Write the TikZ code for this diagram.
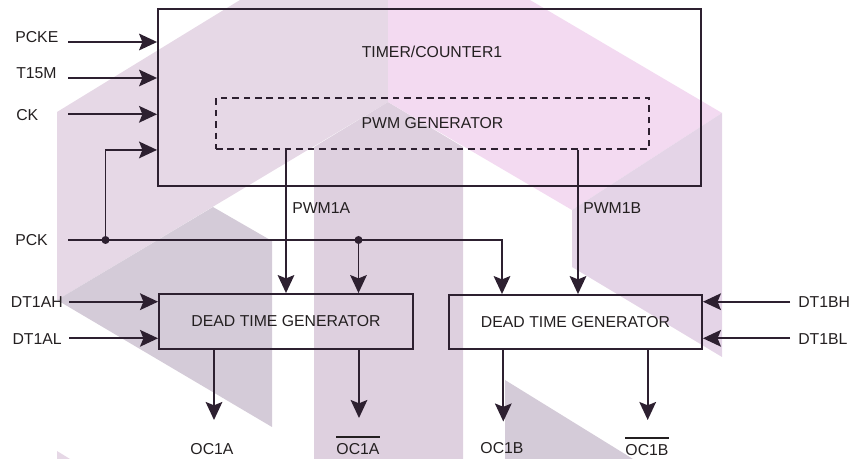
\documentclass[tikz,border=0pt]{standalone}
\usepackage{fontspec}
\setmainfont{Liberation Sans}
\usetikzlibrary{arrows.meta}
\definecolor{lc}{HTML}{2D2030}
\definecolor{tc}{HTML}{231F20}
\definecolor{wmA}{HTML}{E6D8E6}
\definecolor{wmB}{HTML}{DED0DF}
\definecolor{wmG}{HTML}{D4CBD8}
\definecolor{wmP}{HTML}{F3DAF1}
\definecolor{wmC}{HTML}{E4D4E7}
\begin{document}
\begin{tikzpicture}[x=0.75pt,y=-0.75pt,
  font=\fontsize{11.85}{14}\selectfont,
  every node/.style={text=tc},
  line/.style={draw=lc, line width=1.4pt},
  arr/.style={line, -{Stealth[length=13.5pt,width=12.5pt,inset=2.5pt]}},
  box/.style={draw=lc, line width=1.4pt, inner sep=0pt},
  dbox/.style={box, dash pattern=on 4.9pt off 3.7pt},
  lbl/.style={inner sep=0pt},
  dot/.style={fill=lc}]
\useasboundingbox (0,0) rectangle (851,459);
% watermark
\fill[wmA] (57,112) -- (240,0) -- (388,0) -- (388,102) -- (57,300) -- cycle;
\fill[wmB] (314,147) -- (388,102) -- (463,147) -- (463,459) -- (314,459) -- cycle;
\fill[wmP] (388,0) -- (530,0) -- (722,113) -- (572,210) -- (388,102) -- cycle;
\fill[wmC] (572,210) -- (722,113) -- (722,357) -- (572,267) -- cycle;
\fill[wmG] (57,300) -- (213,207) -- (272,241) -- (272,427) -- cycle;
\fill[wmG] (505,380) -- (505,459) -- (633,459) -- cycle;
\fill[wmA] (57,451) -- (57,459) -- (70,459) -- cycle;
% boxes
\node[box, minimum width=407.25pt, minimum height=132.75pt] (timer) at (429.5,97.5) {};
\node[lbl] (ttl) at (432,52) {TIMER/COUNTER1};
\node[dbox, minimum width=324.75pt, minimum height=38.25pt] (pwm) at (432.5,123.5) {PWM GENERATOR};
\node[box, minimum width=190.5pt, minimum height=41.25pt] (dtgA) at (286,321.5) {DEAD TIME GENERATOR};
\node[box, minimum width=189.75pt, minimum height=40.5pt] (dtgB) at (575.5,322) {DEAD TIME GENERATOR};
% labels
\node[lbl, anchor=west] (pcke) at (15,37.5) {PCKE};
\node[lbl, anchor=west] (t15m) at (16,73.5) {T15M};
\node[lbl, anchor=west] (ck) at (16,115.5) {CK};
\node[lbl, anchor=west] (pck) at (15,240.5) {PCK};
\node[lbl, anchor=east] (dtah) at (63,302.5) {DT1AH};
\node[lbl, anchor=east] (dtal) at (62,339) {DT1AL};
\node[lbl, anchor=west] (dtbh) at (798,302) {DT1BH};
\node[lbl, anchor=west] (dtbl) at (798,339) {DT1BL};
\node[lbl, anchor=west] (pwma) at (292,208) {PWM1A};
\node[lbl, anchor=west] (pwmb) at (583,208) {PWM1B};
\node[lbl] (oca) at (212,449) {OC1A};
\node[lbl] (ocan) at (358,449) {OC1A};
\node[lbl] (ocb) at (502,448) {OC1B};
\node[lbl] (ocbn) at (647,450) {OC1B};
\draw[line width=1.2pt, draw=tc] ([yshift=4.6pt]ocan.north west) -- ([yshift=4.6pt]ocan.north east);
\draw[line width=1.2pt, draw=tc] ([yshift=4.6pt]ocbn.north west) -- ([yshift=4.6pt]ocbn.north east);
% inputs to timer
\coordinate (pckeS) at (68,42);
\coordinate (t15mS) at (68,78);
\coordinate (ckS) at (68,114.3);
\draw[arr] (pckeS) -- (pckeS -| timer.west);
\draw[arr] (t15mS) -- (t15mS -| timer.west);
\draw[arr] (ckS) -- (ckS -| timer.west);
% PCK net
\coordinate (pckS) at (68,240);
\coordinate (j1) at (105.5,240);
\coordinate (j2) at (358.5,240);
\coordinate (pckE) at (502,240);
\draw[arr] (pckS) -- (pckE) -- (pckE |- dtgB.north);
\draw[arr] (j1) |- (timer.west |- pwm.south);
\draw[arr] (j2) -- (j2 |- dtgA.north);
\fill[dot] (j1) circle[radius=3pt];
\fill[dot] (j2) circle[radius=3pt];
% PWM outputs
\coordinate (pbX) at (578,0);
\draw[arr] (pwm.south -| dtgA.north) -- (dtgA.north);
\draw[arr] (pwm.south -| pbX) -- (dtgB.north -| pbX);
% dead time inputs
\coordinate (ahS) at (69,301.7);
\coordinate (alS) at (69,338.3);
\coordinate (bhS) at (790,301.7);
\coordinate (blS) at (790,338.3);
\draw[arr] (ahS) -- (ahS -| dtgA.west);
\draw[arr] (alS) -- (alS -| dtgA.west);
\draw[arr] (bhS) -- (bhS -| dtgB.east);
\draw[arr] (blS) -- (blS -| dtgB.east);
% outputs
\coordinate (oaT) at (214,420);
\coordinate (oanT) at (359,418);
\coordinate (obT) at (503.3,421.5);
\coordinate (obnT) at (647.7,420);
\draw[arr] (dtgA.south -| oaT) -- (oaT);
\draw[arr] (dtgA.south -| oanT) -- (oanT);
\draw[arr] (dtgB.south -| obT) -- (obT);
\draw[arr] (dtgB.south -| obnT) -- (obnT);
\end{tikzpicture}
\end{document}
